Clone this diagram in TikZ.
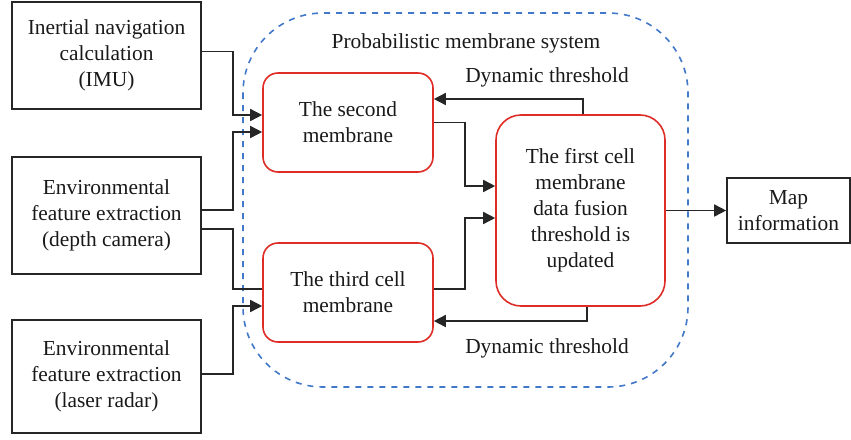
\documentclass[tikz,border=0pt]{standalone}
\usepackage{fontspec}
\setmainfont{Liberation Serif}
\usetikzlibrary{arrows.meta}

\definecolor{memred}{RGB}{222,45,38}
\definecolor{sysblue}{RGB}{66,120,200}

\tikzset{
  txt/.style={align=center, font=\fontsize{10.7}{13}\selectfont, text=black!90},
  srcbox/.style={txt, draw=black!85, thick, minimum width=94.5pt, inner sep=0pt},
  membox/.style={txt, draw=memred, thick, rounded corners=7.5pt, minimum width=85pt, minimum height=49.5pt, inner sep=0pt},
  arr/.style={-{Triangle[length=6pt,width=6pt]}, black!85, thick},
  wire/.style={black!85, thick}
}

\begin{document}
\begin{tikzpicture}[x=0.5pt, y=-0.5pt]
\useasboundingbox (0,0) rectangle (851,439);

% probabilistic membrane system
\draw[sysblue, dashed, thick, rounded corners=40pt] (243,13) rectangle (688,387);
\node[txt] (title) at (466,43) {Probabilistic membrane system};

% sensor inputs
\node[srcbox, minimum height=53.5pt] (imu) at (106.5,55.5) {Inertial navigation\\calculation\\(IMU)};
\node[srcbox, minimum height=58.5pt] (cam) at (106.5,215.5) {Environmental\\feature extraction\\(depth camera)};
\node[srcbox, minimum height=56.5pt] (lidar) at (106.5,376.5) {Environmental\\feature extraction\\(laser radar)};

% membranes
\node[membox] (second) at (348,122.5) {The second\\membrane};
\node[membox] (third) at (348,292.5) {The third cell\\membrane};
\node[membox, rounded corners=12.5pt, minimum width=84.5pt, minimum height=95.5pt] (first) at (580.5,210.5) {The first cell\\membrane\\data fusion\\threshold is\\updated};

\node[srcbox, minimum width=61.5pt, minimum height=32.5pt] (map) at (788.5,210.5) {Map\\information};

% inputs to the second and third membranes
\draw[arr] ([yshift=2pt]imu.east) -- ++(31,0) |- ([yshift=3.75pt]second.west);
\draw[arr] ([yshift=2.75pt]cam.east) -- ++(31,0) |- ([yshift=-4.75pt]second.west);
\draw[wire] ([yshift=-6.75pt]cam.east) -- ++(31,0) |- ([yshift=1.75pt]third.west);
\draw[arr] ([yshift=1.25pt]lidar.east) -- ++(31,0) |- ([yshift=-6.75pt]third.west);

% into the first cell membrane
\draw[arr] (second.east) -- ++(31,0) |- ([yshift=12.25pt]first.west);
\draw[arr] ([yshift=1.75pt]third.east) -- ++(31,0) |- ([yshift=-3.75pt]first.west);

% threshold feedback
\draw[arr] ([xshift=1.25pt]first.north) |- ([yshift=11.75pt]second.east);
\draw[arr] ([xshift=3.25pt]first.south) |- ([yshift=-14.25pt]third.east);
\node[txt] (thrup) at (547,77) {Dynamic threshold};
\node[txt] (thrdown) at (547,348) {Dynamic threshold};

\draw[arr] (first.east) -- (map.west);
\end{tikzpicture}
\end{document}
